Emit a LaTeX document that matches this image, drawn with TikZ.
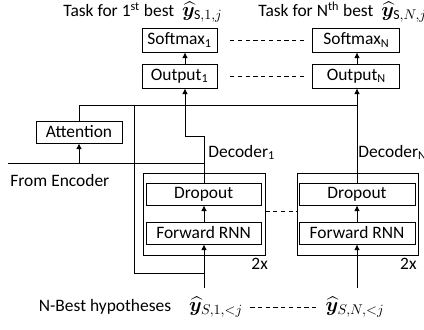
\documentclass[tikz,border=0pt]{standalone}
\usepackage{amsmath}
\usepackage{bm}
\usepackage{fontspec}
\setmainfont{Carlito}
\usetikzlibrary{arrows.meta}

\begin{document}
\begin{tikzpicture}[
    font=\fontsize{12.4}{14}\selectfont,
    line width=0.6pt,
    >={Latex[length=4pt,width=4pt]},
    box/.style={draw, minimum height=0.6cm, inner sep=0pt},
    layer/.style={draw, minimum height=0.55cm, inner sep=0pt},
    txt/.style={inner sep=0pt},
    hyp/.style={inner sep=0pt, font=\fontsize{14}{16}\selectfont},
    gap/.style={dashed, dash pattern=on 3pt off 2.5pt}
  ]
    \useasboundingbox (0,0) rectangle (10.6,8.225);
    % task headers
    \node[txt,anchor=west] (task1) at (1.575,7.92) {Task for 1\textsuperscript{st} best \ {\fontsize{14}{16}\selectfont$\bm{\widehat{y}}_{\mathrm{S},1,j}$}};
    \node[txt,anchor=west] (taskN) at (6.45,7.92) {Task for N\textsuperscript{th} best \ {\fontsize{14}{16}\selectfont$\bm{\widehat{y}}_{\mathrm{S},N,j}$}};
    % output side
    \node[box,minimum width=1.875cm] (soft1) at (4.49,7.225) {Softmax$_\mathrm{1}$};
    \node[box,minimum width=2.175cm] (softN) at (8.91,7.225) {Softmax$_\mathrm{N}$};
    \node[box,minimum width=1.875cm] (out1) at (4.49,6.325) {Output$_\mathrm{1}$};
    \node[box,minimum width=2.175cm] (outN) at (8.91,6.325) {Output$_\mathrm{N}$};
    \draw[gap,shorten <=9pt,shorten >=5pt] (soft1) -- (softN);
    \draw[gap,shorten <=9pt,shorten >=5pt] (out1) -- (outN);
    % attention
    \node[layer,minimum width=2.15cm] (att) at (1.975,4.925) {Attention};
    \node[txt,anchor=west] (enctxt) at (0.25,3.7) {From Encoder};
    % decoders
    \node[draw,minimum width=3.05cm,minimum height=2.05cm] (dec1) at (5.1,2.875) {};
    \node[draw,minimum width=3.025cm,minimum height=2.05cm] (decN) at (8.9375,2.875) {};
    \node[layer,minimum width=2.875cm] (drop1) at (5.09,3.375) {Dropout};
    \node[layer,minimum width=2.9cm] (dropN) at (8.925,3.375) {Dropout};
    \node[layer,minimum width=2.875cm] (rnn1) at (5.09,2.4) {Forward RNN};
    \node[layer,minimum width=2.9cm] (rnnN) at (8.925,2.4) {Forward RNN};
    \node[txt,anchor=south west] (dname1) at (5.2,4.22) {Decoder$_\mathrm{1}$};
    \node[txt,anchor=south west] (dnameN) at (8.95,4.22) {Decoder$_\mathrm{N}$};
    \node[txt,anchor=north east] (rep1) at ([xshift=2pt,yshift=-2pt]dec1.south east) {2x};
    \node[txt,anchor=north east] (repN) at ([xshift=-1pt,yshift=-2pt]decN.south east) {2x};
    \draw[gap] (dec1.east |- 0,2.95) -- (decN.west |- 0,2.95);
    % inputs
    \node[txt] (hyp) at (2.625,0.55) {N-Best hypotheses};
    \node[hyp] (in1) at (5.4,0.55) {$\bm{\widehat{y}}_{S,1,<j}$};
    \node[hyp] (inN) at (8.875,0.55) {$\bm{\widehat{y}}_{S,N,<j}$};
    \draw[gap,shorten <=5pt,shorten >=5pt] (in1) -- (inN);
    % junctions
    \coordinate (ctx) at (0,5.6);
    \coordinate (bend) at (4.625,4.825);
    \coordinate (enc) at (0.2,4.15);
    \coordinate (loop) at (3.35,1.4);
    \coordinate (src1) at (5.1,1.025);
    \coordinate (srcN) at (8.925,1.025);
    % connectors
    \draw[->] (out1.north -| bend) -- (soft1.south -| bend);
    \draw[->] (outN.north -| dropN) -- (softN.south -| dropN);
    \draw[->] (drop1.north -| src1) |- (bend) -- (out1.south -| bend);
    \draw[->] (dropN.north) -- (outN.south -| dropN);
    \draw (att.north) |- (ctx -| dropN);
    \draw (enc) -- (enc -| src1);
    \draw[->] (enc -| att) -- (att.south);
    \draw (ctx -| loop) -- (loop) -- (loop -| src1);
    \draw[->] (rnn1.north -| src1) -- (drop1.south -| src1);
    \draw[->] (rnnN.north) -- (dropN.south);
    \draw[->] (src1) -- (rnn1.south -| src1);
    \draw[->] (srcN) -- (rnnN.south);
\end{tikzpicture}
\end{document}
